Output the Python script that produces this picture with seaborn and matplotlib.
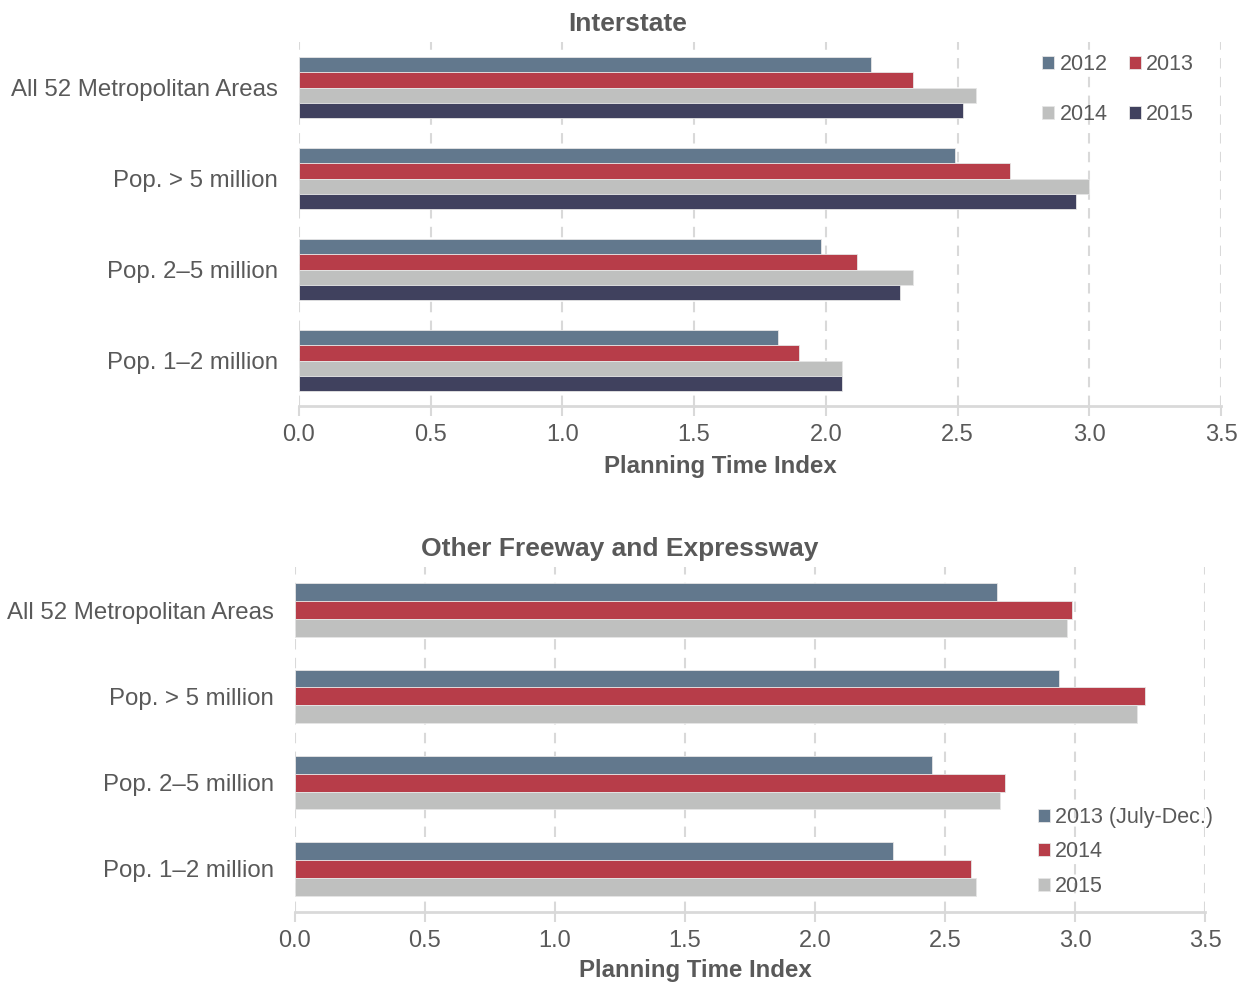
import pandas as pd
import numpy as np
import matplotlib
matplotlib.use("Agg")
import matplotlib.pyplot as plt
import seaborn as sns

# data
groups = ["All 52 Metropolitan Areas", "Pop. > 5 million", "Pop. 2\u20135 million", "Pop. 1\u20132 million"]

years_top = ["2012", "2013", "2014", "2015"]
inter_2012 = [2.17, 2.49, 1.98, 1.82]
inter_2013 = [2.33, 2.70, 2.12, 1.90]
inter_2014 = [2.57, 3.00, 2.33, 2.06]
inter_2015 = [2.52, 2.95, 2.28, 2.06]

years_bot = ["2013 (July-Dec.)", "2014", "2015"]
other_2013 = [2.70, 2.94, 2.45, 2.30]
other_2014 = [2.99, 3.27, 2.73, 2.60]
other_2015 = [2.97, 3.24, 2.71, 2.62]

c_slate = "#62788d"
c_red = "#b73d49"
c_gray = "#bfc0bf"
c_navy = "#40415e"
txt = "#595959"

sns.set_theme(style="white")
plt.rcParams["font.family"] = ["Liberation Sans", "DejaVu Sans"]

top = pd.DataFrame({
    "grp": groups * 4,
    "year": np.repeat(years_top, 4),
    "pti": inter_2012 + inter_2013 + inter_2014 + inter_2015,
})
bot = pd.DataFrame({
    "grp": groups * 3,
    "year": np.repeat(years_bot, 4),
    "pti": other_2013 + other_2014 + other_2015,
})

fig = plt.figure(figsize=(12.43, 9.84), dpi=100)
ax1 = fig.add_axes([0.2405, 0.5874, 0.7418, 0.3699])
ax2 = fig.add_axes([0.2373, 0.0732, 0.7321, 0.3506])


def style(ax, title, title_x, xlab_x):
    ax.set_xlim(0, 3.5)
    ax.set_ylim(3.5, -0.5)
    ax.set_xticks(np.arange(0, 3.51, 0.5))
    ax.set_xticklabels([f"{v:.1f}" for v in np.arange(0, 3.51, 0.5)])
    ax.grid(axis="x", color="#d9d9d9", linestyle=(0, (5, 4)), linewidth=1.5)
    ax.grid(axis="y", visible=False)
    ax.set_axisbelow(True)
    for s in ["top", "right", "left"]:
        ax.spines[s].set_visible(False)
    ax.spines["bottom"].set_color("#d9d9d9")
    ax.spines["bottom"].set_linewidth(2)
    ax.tick_params(axis="x", bottom=True, length=7, width=1.5, color="#d9d9d9",
                   labelsize=17, labelcolor=txt, pad=6)
    ax.tick_params(axis="y", left=False, labelsize=17.3, labelcolor=txt, pad=9)
    ax.set_ylabel("")
    ax.set_xlabel("Planning Time Index", fontsize=17.3, fontweight="bold", color=txt, labelpad=1)
    ax.xaxis.set_label_coords(xlab_x, -0.135)
    ax.set_title(title, fontsize=19, fontweight="bold", color=txt, pad=8, x=title_x)


sns.barplot(data=top, y="grp", x="pti", hue="year", orient="h", ax=ax1,
            palette=[c_slate, c_red, c_gray, c_navy], width=0.68,
            edgecolor="#e6e6e6", linewidth=0.6, saturation=1)
style(ax1, "Interstate", 0.357, 0.457)
h, l = ax1.get_legend_handles_labels()
order = [0, 2, 1, 3]
ax1.legend([h[i] for i in order], [l[i] for i in order], ncol=2, loc="upper right",
           bbox_to_anchor=(0.992, 1.02), frameon=False,
           fontsize=15.5, labelcolor=txt, handlelength=0.55, handleheight=0.55,
           handletextpad=0.25, columnspacing=1.0, labelspacing=1.35)

sns.barplot(data=bot, y="grp", x="pti", hue="year", orient="h", ax=ax2,
            palette=[c_slate, c_red, c_gray], width=0.62,
            edgecolor="#e6e6e6", linewidth=0.6, saturation=1)
style(ax2, "Other Freeway and Expressway", 0.357, 0.44)
ax2.legend(loc="lower right", bbox_to_anchor=(1.03, -0.012), frameon=False,
           fontsize=15.5, labelcolor=txt, handlelength=0.55, handleheight=0.55,
           handletextpad=0.25, labelspacing=0.62)

fig.savefig("out.png", dpi=100)
